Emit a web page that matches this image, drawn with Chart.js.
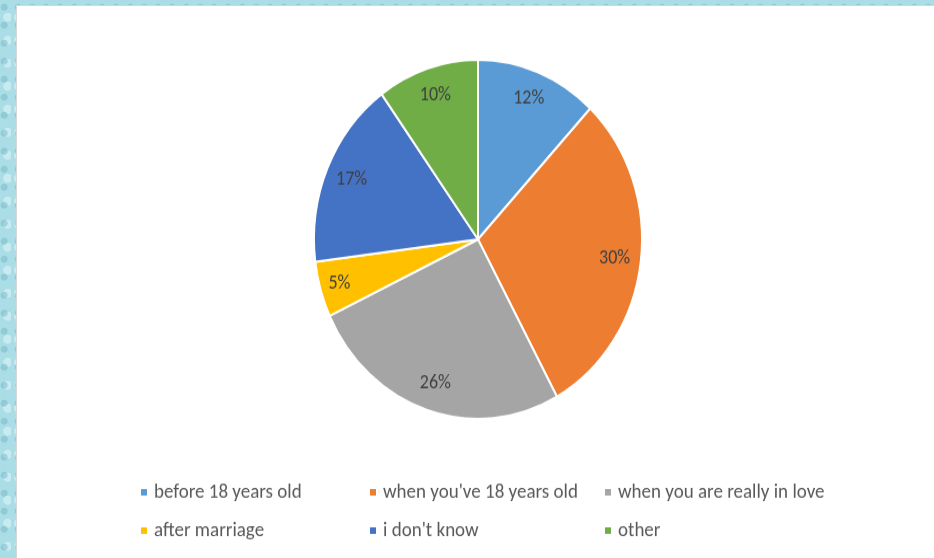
<!DOCTYPE html>
<html>
<head>
<meta charset="utf-8">
<script src="https://cdn.jsdelivr.net/npm/chart.js@4.4.0/dist/chart.umd.min.js"></script>
<style>
  html, body { margin: 0; padding: 0; }
  body {
    width: 934px; height: 558px; overflow: hidden; position: relative;
    background-color: #abdde6;
    background-image:
      radial-gradient(circle at 30% 40%, rgba(110,180,195,0.45) 0 3px, rgba(255,255,255,0) 4px),
      radial-gradient(circle at 70% 75%, rgba(220,245,250,0.6) 0 4px, rgba(255,255,255,0) 5px);
    background-size: 14px 18px, 11px 23px;
  }
  #panel {
    position: absolute; left: 16px; top: 5px; width: 918px; height: 553px;
    background: #fff; border-left: 1px solid #d6d6d6; border-top: 1px solid #d6d6d6;
    box-sizing: border-box;
  }
  #wrap {
    position: absolute; left: 16px; top: 5px; width: 918px; height: 505px;
    transform: scaleY(1.095); transform-origin: 0 0;
  }
</style>
</head>
<body>
<div id="panel"></div>
<div id="wrap"><canvas id="pie" width="918" height="505"></canvas></div>
<script>
// Data
var categories = ['before 18 years old', "when you've 18 years old", 'when you are really in love',
                  'after marriage', "i don't know", 'other'];
var shares = [12, 30, 26, 5, 17, 10];
var colors = ['#5B9BD5', '#ED7D31', '#A5A5A5', '#FFC000', '#4472C4', '#70AD47'];

var fontFamily = "Carlito, 'Liberation Sans Narrow', 'Liberation Sans', sans-serif";

// Percentage labels inside each slice
var sliceLabels = {
  id: 'sliceLabels',
  afterDatasetsDraw: function(chart) {
    var ctx = chart.ctx;
    var meta = chart.getDatasetMeta(0);
    ctx.save();
    ctx.font = '18px ' + fontFamily;
    ctx.fillStyle = '#404040';
    ctx.textAlign = 'center';
    ctx.textBaseline = 'middle';
    meta.data.forEach(function(arc, i) {
      var p = arc.getProps(['x', 'y', 'startAngle', 'endAngle', 'outerRadius']);
      var mid = (p.startAngle + p.endAngle) / 2;
      var r = p.outerRadius * (shares[i] < 8 ? 0.88 : 0.84);
      ctx.fillText(shares[i] + '%', p.x + Math.cos(mid) * r, p.y + Math.sin(mid) * r);
    });
    ctx.restore();
  }
};

// Office-style legend in fixed columns below the pie
var columnLegend = {
  id: 'columnLegend',
  afterDraw: function(chart) {
    var ctx = chart.ctx;
    var colX = [125, 354, 589];
    var rowY = [445, 480];
    ctx.save();
    ctx.font = '19px ' + fontFamily;
    ctx.textBaseline = 'middle';
    ctx.textAlign = 'left';
    categories.forEach(function(name, i) {
      var x = colX[i % 3];
      var y = rowY[Math.floor(i / 3)];
      ctx.fillStyle = colors[i];
      ctx.fillRect(x, y - 3, 6, 6);
      ctx.fillStyle = '#595959';
      ctx.fillText(name, x + 13, y);
    });
    ctx.restore();
  }
};

var chart = new Chart(document.getElementById('pie'), {
  type: 'pie',
  data: {
    labels: categories,
    datasets: [{
      data: shares,
      backgroundColor: colors,
      borderColor: '#ffffff',
      borderWidth: 2
    }]
  },
  options: {
    responsive: false,
    animation: false,
    layout: { padding: { left: 297, right: 291, top: 49, bottom: 126 } },
    plugins: {
      legend: { display: false },
      tooltip: { enabled: false }
    }
  },
  plugins: [sliceLabels, columnLegend]
});
</script>
</body>
</html>
